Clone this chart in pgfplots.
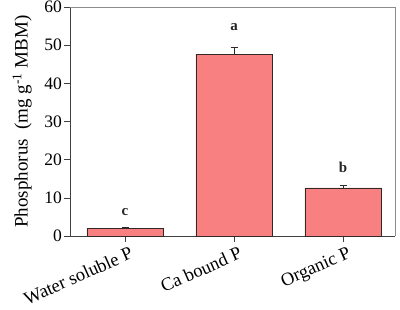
\documentclass[border=0pt]{standalone}
\usepackage{pgfplots}
\pgfplotsset{compat=1.18}
\usepackage{fontspec}
\setmainfont{Liberation Serif}
\definecolor{barfill}{RGB}{248,128,128}
\definecolor{baredge}{RGB}{50,40,40}
\begin{document}
\begin{tikzpicture}
\path[use as bounding box] (-70pt,-74pt) rectangle (330pt,236pt);
\begin{axis}[
  scale only axis,
  width=325pt, height=229pt,
  xmin=-0.505, xmax=2.477,
  ymin=0, ymax=60,
  ytick={0,10,...,60},
  xtick={0,1,2},
  xticklabels={Water soluble P, Ca bound P, Organic P},
  axis x line*=bottom,
  axis y line*=left,
  axis line style={draw=black!75, line width=0.6pt},
  tick style={draw=black!75, line width=0.6pt},
  tick align=outside,
  major tick length=6pt,
  /pgf/number format/assume math mode=true,
  yticklabel style={font=\fontsize{17.5}{20}\selectfont, inner sep=2pt},
  xticklabel style={font=\fontsize{18.5}{22}\selectfont, rotate=24, anchor=north east, inner sep=1pt, yshift=-4pt, xshift=3pt},
  ylabel={Phosphorus\ \ (mg g\textsuperscript{-1} MBM)},
  ylabel style={font=\fontsize{19}{22}\selectfont, yshift=7pt},
  clip=false,
]
\addplot[ybar, bar width=0.7, fill=barfill, draw=baredge, line width=0.6pt,
  error bars/.cd, y dir=plus, y explicit,
  error bar style={draw=baredge, line width=0.6pt},
  error mark options={rotate=90, mark size=3.5pt, draw=baredge, line width=0.6pt}]
  coordinates {(0,1.9) +- (0,0.5) (1,47.6) +- (0,1.8) (2,12.6) +- (0,0.7)};
\addplot[only marks, mark=*, mark size=0pt, mark options={draw=none, fill=none}, point meta=explicit symbolic,
  nodes near coords, nodes near coords align={center},
  every node near coord/.style={font=\bfseries\fontsize{15}{17}\selectfont, text=black!85, inner sep=0pt}]
  coordinates {(0,6.3)[c] (1,54.7)[a] (2,18)[b]};
\draw[black!45, line width=0.6pt] (rel axis cs:0,1) -- (rel axis cs:1,1) -- (rel axis cs:1,0);
\end{axis}
\end{tikzpicture}
\end{document}
